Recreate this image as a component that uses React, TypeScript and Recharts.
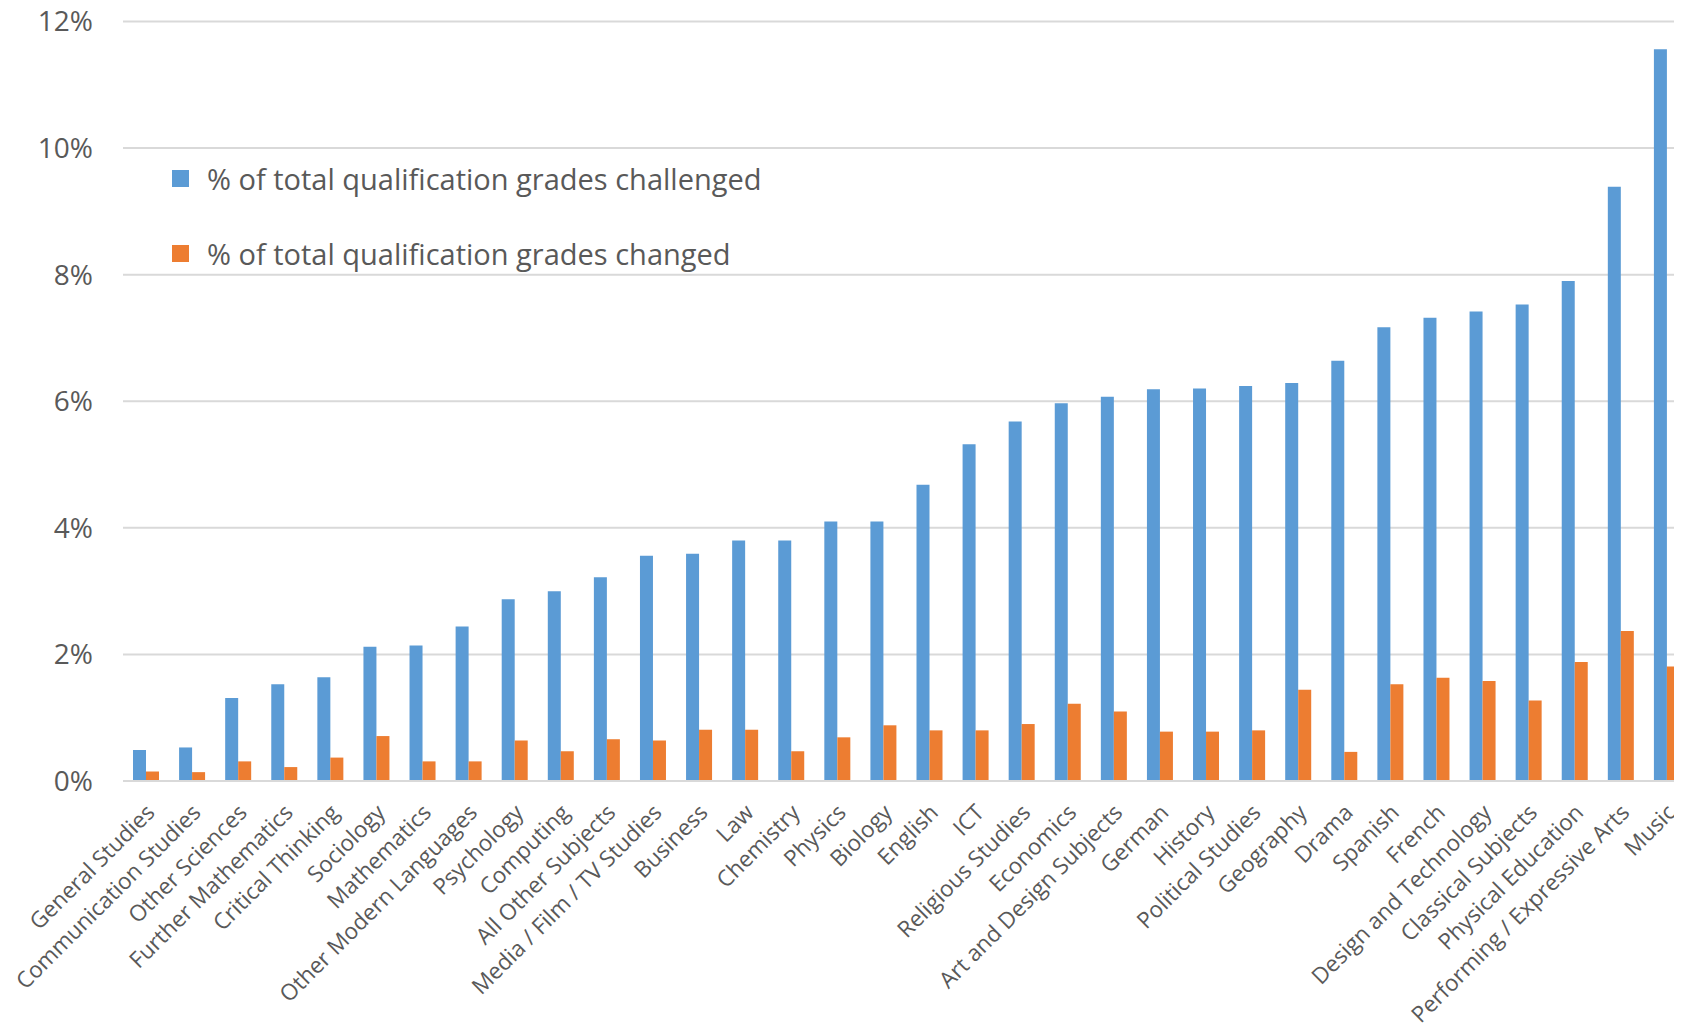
import React from 'react';
import { BarChart, Bar, XAxis, YAxis, CartesianGrid } from 'recharts';

const subjects = [
  'General Studies', 'Communication Studies', 'Other Sciences', 'Further Mathematics', 'Critical Thinking',
  'Sociology', 'Mathematics', 'Other Modern Languages', 'Psychology', 'Computing',
  'All Other Subjects', 'Media / Film / TV Studies', 'Business', 'Law', 'Chemistry',
  'Physics', 'Biology', 'English', 'ICT', 'Religious Studies',
  'Economics', 'Art and Design Subjects', 'German', 'History', 'Political Studies',
  'Geography', 'Drama', 'Spanish', 'French', 'Design and Technology',
  'Classical Subjects', 'Physical Education', 'Performing / Expressive Arts', 'Music',
];

const challenged = [
  0.49, 0.53, 1.31, 1.53, 1.64,
  2.12, 2.14, 2.44, 2.87, 3.0,
  3.22, 3.56, 3.59, 3.8, 3.8,
  4.1, 4.1, 4.68, 5.32, 5.68,
  5.97, 6.07, 6.19, 6.2, 6.24,
  6.29, 6.64, 7.17, 7.32, 7.42,
  7.53, 7.9, 9.39, 11.56,
];

const changed = [
  0.15, 0.14, 0.31, 0.22, 0.37,
  0.71, 0.31, 0.31, 0.64, 0.47,
  0.66, 0.64, 0.81, 0.81, 0.47,
  0.69, 0.88, 0.8, 0.8, 0.9,
  1.22, 1.1, 0.78, 0.78, 0.8,
  1.44, 0.46, 1.53, 1.63, 1.58,
  1.27, 1.88, 2.37, 1.81,
];

const yTicks = [0, 2, 4, 6, 8, 10, 12];

const seriesNames = [
  '% of total qualification grades challenged',
  '% of total qualification grades changed',
];
const seriesColors = ['#5B9BD5', '#ED7D31'];

const data = subjects.map((s, i) => ({ subject: s, challenged: challenged[i], changed: changed[i] }));

const FONT = '"Open Sans", sans-serif';
const TEXT = '#595959';

const XTick = (props: any) => {
  const { x, y, payload } = props;
  return (
    <g transform={`translate(${x + 10},${y + 25})`}>
      <text x={0} y={0} textAnchor="end" transform="rotate(-45)" fill={TEXT}
        fontFamily={FONT} fontSize={22.5}>
        {payload.value}
      </text>
    </g>
  );
};

export default function App() {
  return (
    <div style={{ marginLeft: -8, marginTop: -8, width: 1682, height: 1027, overflow: 'hidden', background: '#fff', position: 'relative' }}>
      <BarChart width={1700} height={1027} data={data}
        margin={{ top: 21.5, right: 10, bottom: 0, left: 0 }}
        barGap={0} barSize={13}>
        <CartesianGrid vertical={false} stroke="#d9d9d9" strokeWidth={2} />
        <XAxis dataKey="subject" interval={0} tickLine={false}
          axisLine={{ stroke: '#d9d9d9', strokeWidth: 2 }} height={246}
          tick={<XTick />} />
        <YAxis domain={[0, 12]} ticks={yTicks} width={123} tickLine={false} axisLine={false}
          tickSize={0} tickMargin={30} tickFormatter={(v: number) => `${v}%`}
          tick={{ fill: TEXT, fontFamily: FONT, fontSize: 28 }} />
        <Bar dataKey="challenged" name={seriesNames[0]} fill={seriesColors[0]} isAnimationActive={false} />
        <Bar dataKey="changed" name={seriesNames[1]} fill={seriesColors[1]} isAnimationActive={false} />
      </BarChart>
      <div style={{ position: 'absolute', left: 172, top: 141, fontFamily: FONT }}>
        {seriesNames.map((n, i) => (
          <div key={n} style={{ display: 'flex', alignItems: 'center', height: 75 }}>
            <div style={{ width: 17, height: 17, background: seriesColors[i], marginRight: 18 }} />
            <span style={{ color: TEXT, fontSize: 29, whiteSpace: 'nowrap' }}>{n}</span>
          </div>
        ))}
      </div>
    </div>
  );
}
